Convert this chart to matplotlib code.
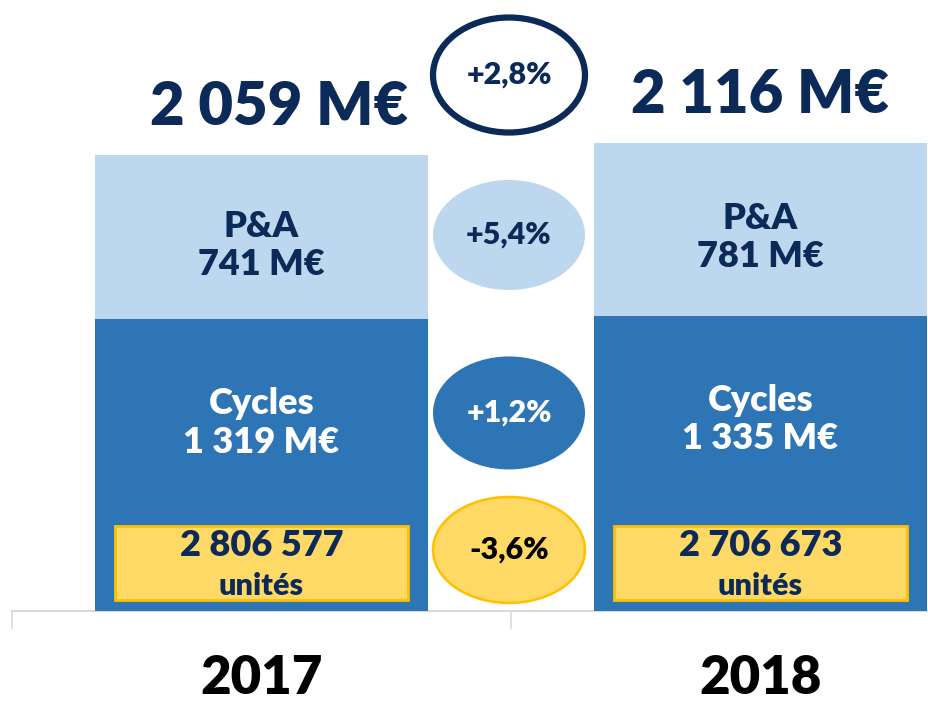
import matplotlib
matplotlib.use("Agg")
import matplotlib.pyplot as plt
from matplotlib.patches import Ellipse, Rectangle

# ── data ──────────────────────────────────────────────────────────────────────
years      = ["2017", "2018"]
cycles     = [1319, 1335]
pa         = [741, 781]
totals     = ["2 059 M€", "2 116 M€"]
units      = ["2 806 577", "2 706 673"]
growth     = ["+2,8%", "+5,4%", "+1,2%", "-3,6%"]

NAVY   = "#0C2A57"
LIGHT  = "#BDD7EE"
MID    = "#2E75B6"
YELLOW = "#FFD966"
GOLD   = "#FFC000"

plt.rcParams["font.family"] = ["Lato", "DejaVu Sans"]

W, H = 929, 702
fig = plt.figure(figsize=(W / 100, H / 100), dpi=100)
x0, y0 = 12, 611                    # pixel position of axis origin
ax = fig.add_axes([x0 / W, (H - y0) / H, (W - x0) / W, y0 / H])
px_per_unit = 0.2213                # px per M€
ax.set_ylim(0, y0 / px_per_unit)
ax.set_xlim(-0.5, -0.5 + (W - x0) / 499)
ax.axis("off")

x = [0, 1]
ax.bar(x, cycles, width=0.667, color=MID, zorder=2)
ax.bar(x, pa, bottom=cycles, width=0.667, color=LIGHT, zorder=2)

# axis baseline + category ticks
ax.plot([-0.5, 2], [0, 0], color="#D9D9D9", lw=1.5, clip_on=False, zorder=1)
for t in [-0.5, 0.5]:
    ax.plot([t, t], [0, -75], color="#D9D9D9", lw=1.2, clip_on=False)

for i in x:
    top = cycles[i] + pa[i]
    ax.annotate(totals[i], (i + (0.036 if i == 0 else 0.0), top), xytext=(0, 34),
                textcoords="offset points", ha="center", va="center",
                fontsize=43, fontweight="heavy", color=NAVY)
    ax.text(i, cycles[i] + pa[i] * 0.45, f"P&A\n{pa[i]} M€", ha="center",
            va="center", fontsize=26, fontweight="heavy", color=NAVY,
            linespacing=1.2, zorder=3)
    cyc = f"{cycles[i]:,}".replace(",", " ")
    ax.text(i, cycles[i] - 470, f"Cycles\n{cyc} M€", ha="center",
            va="center", fontsize=26, fontweight="heavy", color="white",
            linespacing=1.2, zorder=3)
    ax.add_patch(Rectangle((i - 0.2935, 50), 0.587, 334, facecolor=YELLOW,
                           edgecolor=GOLD, lw=2, zorder=3))
    ax.text(i, 296, units[i], ha="center", va="center", fontsize=26,
            fontweight="heavy", color=NAVY, zorder=4)
    ax.text(i, 114, "unités", ha="center", va="center", fontsize=22,
            fontweight="heavy", color=NAVY, zorder=4)
    ax.text(i, -305, years[i], ha="center", va="center", fontsize=38,
            fontweight="heavy", color="black", clip_on=False)

# growth bubbles
bubble_y   = [2422, 1699, 895, 276]
bubble_fc  = ["white", LIGHT, MID, YELLOW]
bubble_ec  = [NAVY, LIGHT, MID, GOLD]
bubble_lw  = [4.5, 0, 0, 1.8]
bubble_tc  = [NAVY, NAVY, "white", "black"]
bubble_h   = [115, 110, 113, 106]
for g, yy, fc, ec, lw, tc, hh in zip(growth, bubble_y, bubble_fc, bubble_ec,
                                     bubble_lw, bubble_tc, bubble_h):
    ax.add_patch(Ellipse((0.496, yy), 152 / 499, hh / px_per_unit,
                         facecolor=fc, edgecolor=ec, lw=lw, zorder=3))
    ax.text(0.496, yy, g, ha="center", va="center", fontsize=22,
            fontweight="heavy", color=tc, zorder=4)

fig.savefig("out.png", dpi=100)
